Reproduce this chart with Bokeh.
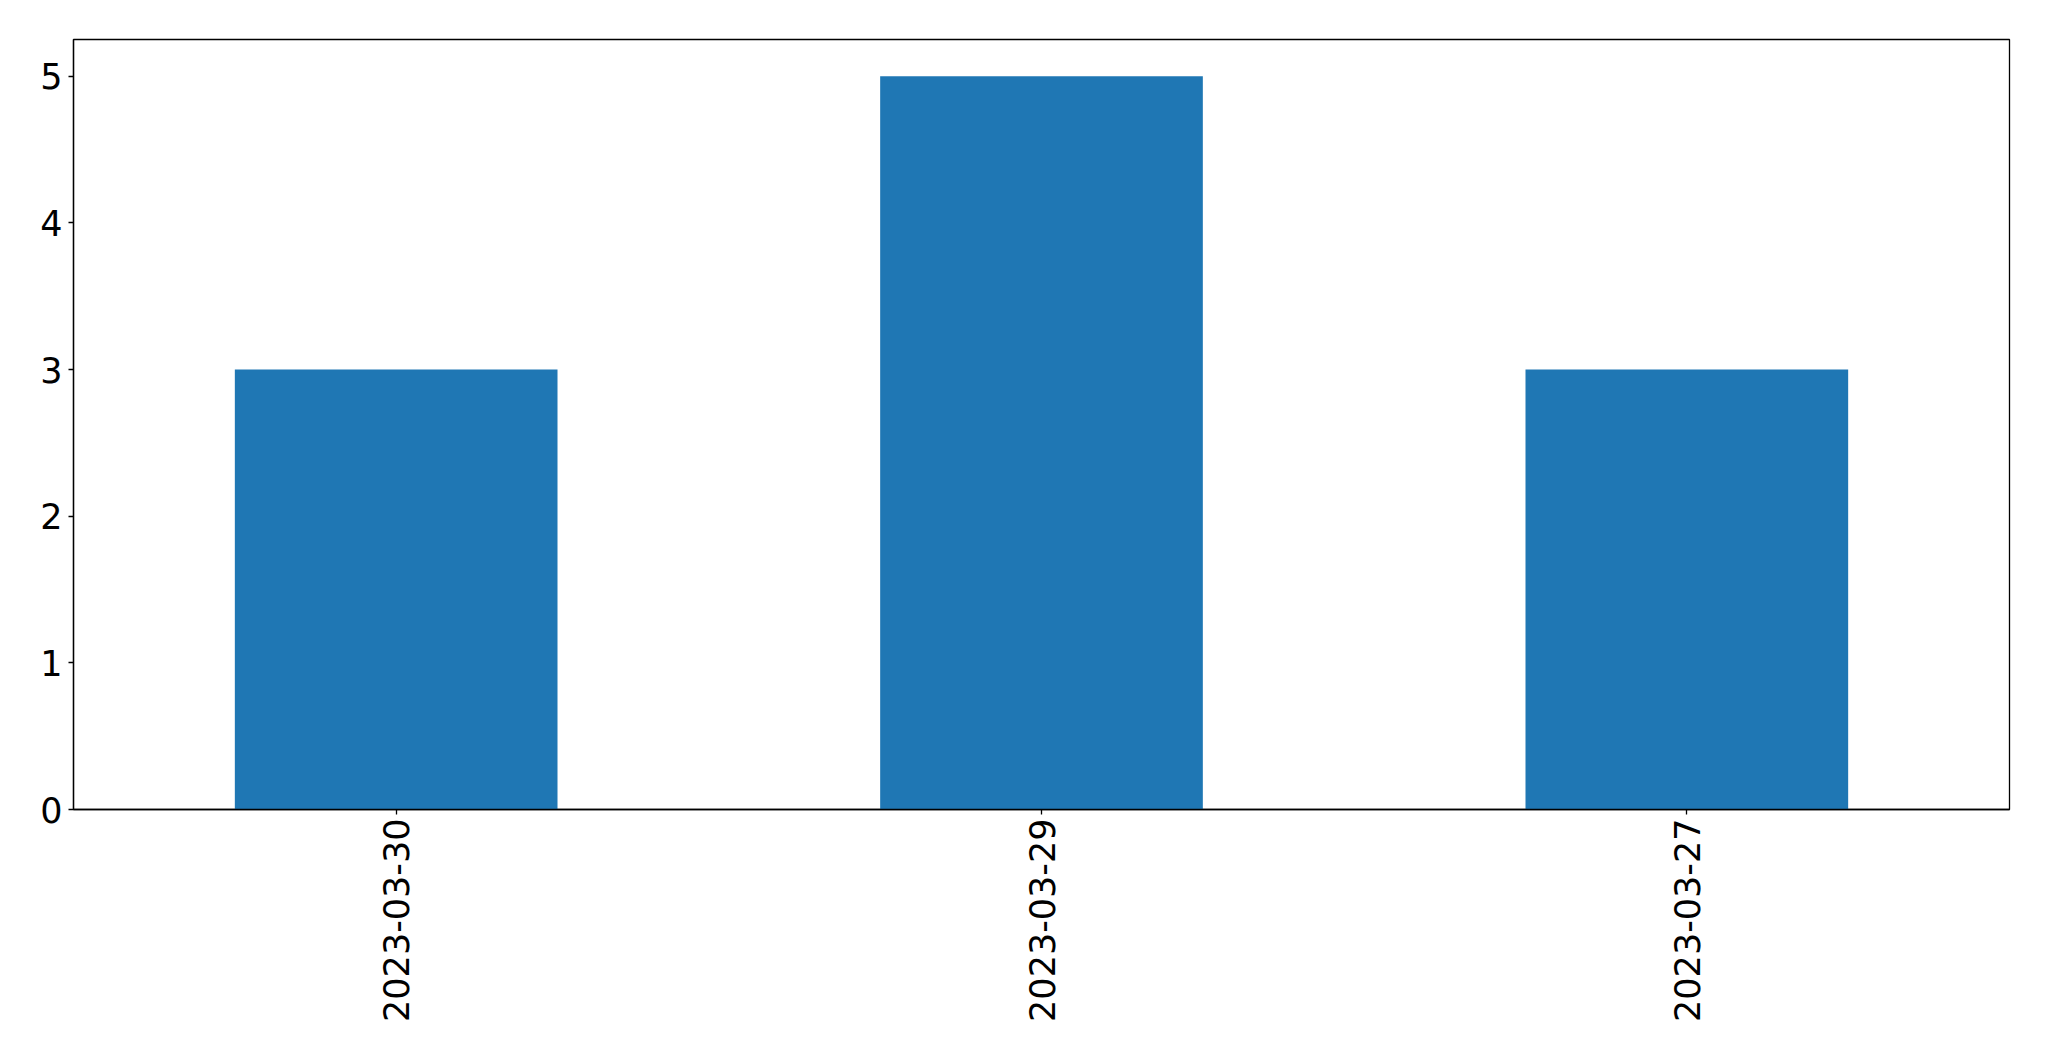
import math
from bokeh.plotting import figure
from bokeh.models import FactorRange, Range1d, FixedTicker, ColumnDataSource
from bokeh.embed import file_html
from bokeh.resources import INLINE

dates = ["2023-03-30", "2023-03-29", "2023-03-27"]
counts = [3, 5, 3]
y_ticks = [0, 1, 2, 3, 4, 5]

src = ColumnDataSource(dict(x=dates, top=counts))

p = figure(
    x_range=FactorRange(factors=dates, range_padding=0),
    y_range=Range1d(0, 5.25),
    width=2037, height=1044,
    min_border_left=73, min_border_top=39, min_border_right=28, min_border_bottom=235,
    output_backend="svg", toolbar_location=None,
)
p.vbar(x="x", top="top", width=0.5, bottom=0, source=src,
       fill_color="#1f77b4", line_color=None)

p.xgrid.visible = False
p.ygrid.visible = False
p.outline_line_color = "black"
p.outline_line_width = 1.3
p.outline_line_alpha = 1

for ax in (p.xaxis[0], p.yaxis[0]):
    ax.axis_line_color = "black"
    ax.axis_line_width = 1.3
    ax.major_tick_line_color = "black"
    ax.major_tick_line_width = 1.3
    ax.major_tick_in = 0
    ax.major_tick_out = 5
    ax.minor_tick_line_color = None
    ax.major_label_text_font = "DejaVu Sans"
    ax.major_label_text_font_size = "35px"
    ax.major_label_text_color = "black"

p.yaxis[0].ticker = FixedTicker(ticks=y_ticks)
p.yaxis[0].major_label_standoff = 6
p.xaxis[0].major_label_orientation = math.pi / 2
p.xaxis[0].major_label_standoff = 4

open("out.html", "w").write(file_html(p, INLINE))
